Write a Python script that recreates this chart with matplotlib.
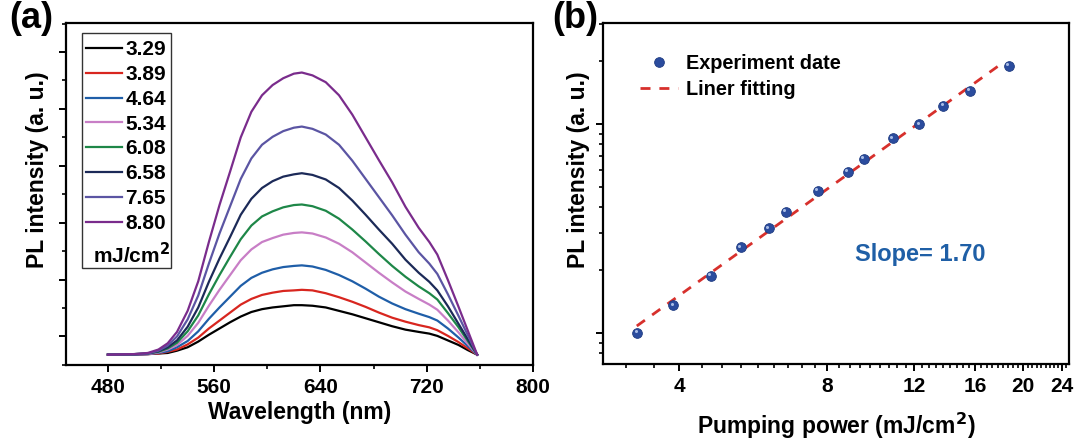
import matplotlib
matplotlib.use("Agg")
import matplotlib.pyplot as plt
import matplotlib.transforms as mtransforms
from matplotlib.ticker import FixedLocator, MultipleLocator, NullFormatter, FixedFormatter
from matplotlib.patches import Rectangle
import numpy as np

plt.rcParams['font.family'] = ['Liberation Sans', 'DejaVu Sans']
plt.rcParams['font.weight'] = 'bold'
plt.rcParams['axes.labelweight'] = 'bold'

# ---- panel (a): PL spectra ----
wavelength = [480, 500, 510, 518, 525, 532, 540, 548, 556, 564, 572, 580, 588,
              596, 604, 612, 620, 626, 634, 644, 654, 664, 674, 684, 694, 704,
              714, 722, 728, 736, 744, 751, 758]

pl_329 = [-0.32, -0.32, -0.31, -0.30, -0.29, -0.25, -0.19, -0.09, 0.03, 0.14, 0.25,
          0.35, 0.43, 0.48, 0.51, 0.53, 0.55, 0.55, 0.54, 0.51, 0.45, 0.39, 0.32,
          0.25, 0.18, 0.12, 0.08, 0.05, 0.01, -0.07, -0.15, -0.24, -0.32]
pl_389 = [-0.32, -0.32, -0.31, -0.30, -0.27, -0.23, -0.14, -0.02, 0.14, 0.28, 0.42,
          0.56, 0.66, 0.73, 0.77, 0.80, 0.81, 0.82, 0.81, 0.76, 0.69, 0.61, 0.52,
          0.42, 0.33, 0.26, 0.20, 0.16, 0.11, 0.01, -0.10, -0.21, -0.32]
pl_464 = [-0.32, -0.32, -0.31, -0.29, -0.26, -0.19, -0.08, 0.09, 0.31, 0.51, 0.70,
          0.89, 1.03, 1.12, 1.18, 1.22, 1.24, 1.25, 1.23, 1.17, 1.08, 0.97, 0.84,
          0.70, 0.58, 0.48, 0.40, 0.34, 0.28, 0.14, -0.02, -0.17, -0.32]
pl_534 = [-0.32, -0.31, -0.31, -0.28, -0.23, -0.15, 0.01, 0.24, 0.54, 0.82, 1.08,
          1.34, 1.53, 1.66, 1.73, 1.79, 1.82, 1.83, 1.81, 1.74, 1.63, 1.48, 1.30,
          1.12, 0.95, 0.79, 0.66, 0.56, 0.47, 0.28, 0.07, -0.13, -0.32]
pl_608 = [-0.32, -0.31, -0.30, -0.27, -0.21, -0.11, 0.09, 0.37, 0.74, 1.08, 1.40,
          1.71, 1.95, 2.11, 2.20, 2.27, 2.31, 2.32, 2.29, 2.21, 2.07, 1.88, 1.67,
          1.45, 1.24, 1.05, 0.88, 0.76, 0.65, 0.41, 0.16, -0.08, -0.32]
pl_658 = [-0.32, -0.31, -0.30, -0.26, -0.19, -0.07, 0.17, 0.51, 0.96, 1.37, 1.75,
          2.14, 2.42, 2.61, 2.73, 2.81, 2.85, 2.87, 2.84, 2.76, 2.61, 2.39, 2.14,
          1.88, 1.63, 1.35, 1.12, 0.96, 0.81, 0.53, 0.22, -0.05, -0.32]
pl_765 = [-0.32, -0.31, -0.30, -0.25, -0.16, 0.00, 0.30, 0.72, 1.28, 1.81, 2.29,
          2.77, 3.13, 3.37, 3.51, 3.61, 3.67, 3.69, 3.65, 3.55, 3.37, 3.09, 2.77,
          2.45, 2.13, 1.79, 1.48, 1.28, 1.10, 0.74, 0.36, 0.02, -0.32]
pl_880 = [-0.32, -0.31, -0.29, -0.23, -0.12, 0.08, 0.45, 0.97, 1.66, 2.31, 2.90,
          3.50, 3.95, 4.24, 4.42, 4.54, 4.62, 4.64, 4.59, 4.47, 4.24, 3.90, 3.50,
          3.10, 2.71, 2.28, 1.91, 1.66, 1.44, 0.99, 0.52, 0.10, -0.32]

spectra = [pl_329, pl_389, pl_464, pl_534, pl_608, pl_658, pl_765, pl_880]
fluence_labels = ['3.29', '3.89', '4.64', '5.34', '6.08', '6.58', '7.65', '8.80']
line_colors = ['#000000', '#d8261f', '#1f5ea8', '#c87ec6', '#1e8748',
               '#1c2a58', '#5b55a3', '#7a2c8c']

# ---- panel (b): power dependence ----
pump_power = [3.29, 3.89, 4.64, 5.34, 6.08, 6.58, 7.65, 8.80,
              9.50, 10.88, 12.31, 13.76, 15.58, 18.70]
pl_intensity = [1003, 1361, 1880, 2579, 3169, 3793, 4780, 5911,
                6824, 8544, 9968, 12236, 14387, 18950]

fig = plt.figure(figsize=(10.76, 4.43), dpi=100)
ax1 = fig.add_axes([0.0613, 0.175, 0.434, 0.773])
ax2 = fig.add_axes([0.5604, 0.178, 0.4331, 0.770])

for y, c, lab in zip(spectra, line_colors, fluence_labels):
    ax1.plot(wavelength, y, color=c, lw=1.6, label=lab)

ax1.set_xlim(448.4, 800)
ax1.set_ylim(-0.51, 5.51)
ax1.xaxis.set_major_locator(FixedLocator([480, 560, 640, 720, 800]))
ax1.xaxis.set_minor_locator(MultipleLocator(40))
ax1.yaxis.set_major_locator(MultipleLocator(1))
ax1.yaxis.set_minor_locator(MultipleLocator(0.5))
ax1.yaxis.set_major_formatter(NullFormatter())
ax1.set_xlabel('Wavelength (nm)', fontsize=16.5, labelpad=3)
ax1.set_ylabel('PL intensity (a. u.)', fontsize=16.5)
ax1.yaxis.set_label_coords(-0.036, 0.571)

ax1.legend(loc='upper left', bbox_to_anchor=(0.043, 0.95), frameon=False,
           fontsize=15, handlelength=1.75, handletextpad=0.15,
           labelspacing=0.28, borderpad=0, borderaxespad=0)
ax1.add_patch(Rectangle((0.034, 0.285), 0.19, 0.686, transform=ax1.transAxes,
                        fill=False, edgecolor='#333333', lw=1.0, zorder=5))
ax1.text(0.058, 0.323, 'mJ/cm$^\\mathbf{2}$', transform=ax1.transAxes,
         fontsize=15, fontweight='bold', va='center', ha='left')

# fit in log-log space
k, b = np.polyfit(np.log10(pump_power), np.log10(pl_intensity), 1)
fit_x = np.array([3.28, 18.0])
fit_y = 10 ** (k * np.log10(fit_x) + b)

ax2.plot(fit_x, fit_y, color='#d7302c', lw=2, dashes=(3.6, 3.2),
         label='Liner fitting', zorder=2)
ax2.plot(pump_power, pl_intensity, 'o', color='#2b4c9e', mec='#1d3a80', mew=0.6,
         ms=7, label='Experiment date', zorder=3)
# little highlight on the spheres
shine = mtransforms.offset_copy(ax2.transData, fig=fig, x=-1.1, y=1.1, units='points')
ax2.plot(pump_power, pl_intensity, 'o', color='#a9bde6', ms=2.2, mew=0,
         transform=shine, zorder=4)

ax2.set_xscale('log')
ax2.set_yscale('log')
ax2.set_xlim(2.8, 24.8)
ax2.set_ylim(710, 30400)
ax2.xaxis.set_major_locator(FixedLocator([4, 8, 12, 16, 20, 24]))
ax2.xaxis.set_major_formatter(FixedFormatter(['4', '8', '12', '16', '20', '24']))
ax2.xaxis.set_minor_locator(FixedLocator(np.arange(-2, 52) * 4 / 9 + 4))
ax2.xaxis.set_minor_formatter(NullFormatter())
ax2.yaxis.set_major_locator(FixedLocator([1000, 10000]))
ax2.yaxis.set_minor_locator(FixedLocator([800, 900, 2000, 3000, 4000, 5000, 6000,
                                          7000, 8000, 9000, 20000, 30000]))
ax2.yaxis.set_major_formatter(NullFormatter())
ax2.yaxis.set_minor_formatter(NullFormatter())
ax2.set_xlabel('Pumping power (mJ/cm$^\\mathbf{2}$)', fontsize=16.5, labelpad=11)
ax2.set_ylabel('PL intensity (a. u.)', fontsize=16.5)
ax2.yaxis.set_label_coords(-0.028, 0.571)

h, l = ax2.get_legend_handles_labels()
ax2.legend(h[::-1], l[::-1], loc='upper left', bbox_to_anchor=(0.08, 0.91), frameon=False,
           fontsize=14.3, handlelength=1.9, handletextpad=0.4, labelspacing=0.36,
           borderpad=0, borderaxespad=0)
ax2.text(0.54, 0.32, 'Slope= 1.70', transform=ax2.transAxes, fontsize=17,
         color='#1f5fa6', fontweight='bold', va='center', ha='left')

for ax in (ax1, ax2):
    for s in ax.spines.values():
        s.set_linewidth(1.6)
    ax.tick_params(which='major', direction='out', length=5, width=1.4,
                   labelsize=15, pad=4)
    ax.tick_params(which='minor', direction='out', length=3, width=1.2)

fig.text(0.009, 0.997, '(a)', fontsize=26, fontweight='bold', va='top', ha='left')
fig.text(0.513, 0.997, '(b)', fontsize=26, fontweight='bold', va='top', ha='left')

fig.savefig('out.png', dpi=100)
